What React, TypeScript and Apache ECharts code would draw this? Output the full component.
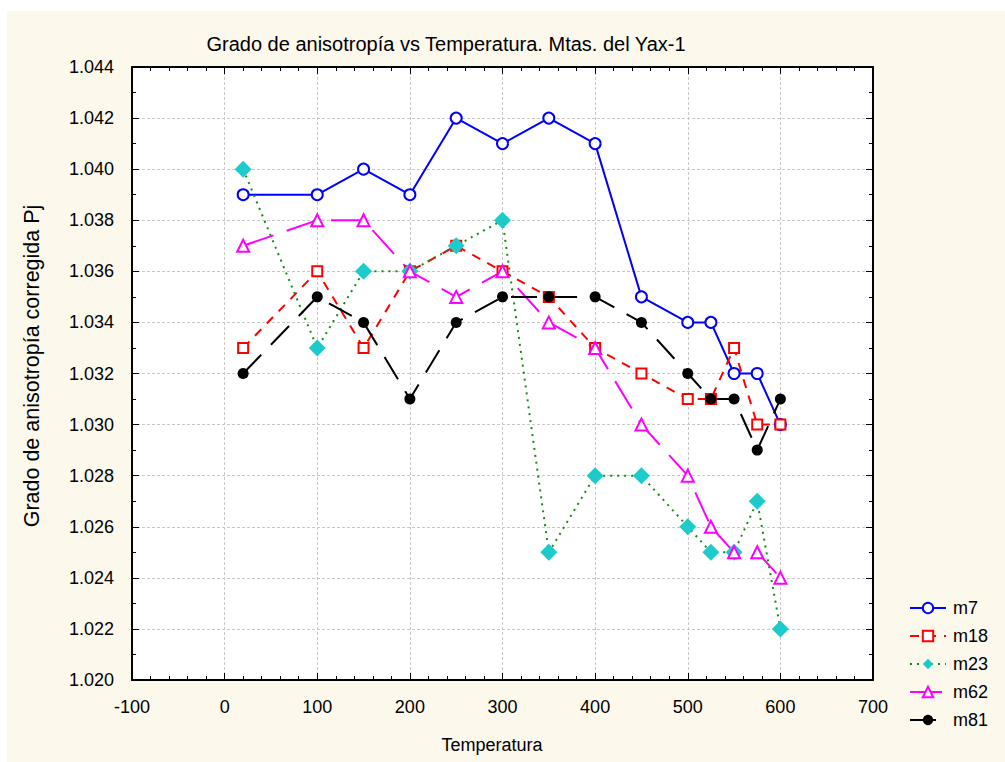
import React, { useEffect, useRef } from "react";
import * as echarts from "echarts";

// Temperature steps (°C) shared by every specimen
const temps = [20, 100, 150, 200, 250, 300, 350, 400, 450, 500, 525, 550, 575, 600];

// Corrected anisotropy degree Pj per specimen
const m7 = [1.039, 1.039, 1.040, 1.039, 1.042, 1.041, 1.042, 1.041, 1.035, 1.034, 1.034, 1.032, 1.032, 1.030];
const m18 = [1.033, 1.036, 1.033, 1.036, 1.037, 1.036, 1.035, 1.033, 1.032, 1.031, 1.031, 1.033, 1.030, 1.030];
const m23 = [1.040, 1.033, 1.036, 1.036, 1.037, 1.038, 1.025, 1.028, 1.028, 1.026, 1.025, 1.025, 1.027, 1.022];
const m62 = [1.037, 1.038, 1.038, 1.036, 1.035, 1.036, 1.034, 1.033, 1.030, 1.028, 1.026, 1.025, 1.025, 1.024];
const m81 = [1.032, 1.035, 1.034, 1.031, 1.034, 1.035, 1.035, 1.035, 1.034, 1.032, 1.031, 1.031, 1.029, 1.031];

const xMin = -100;
const xMax = 700;
const xStep = 100;
const yMin = 1.02;
const yMax = 1.044;
const yStep = 0.002;

const FONT = "Liberation Sans, Arial, sans-serif";

const pairs = (ys: number[]) => temps.map((t, i) => [t, ys[i]]);

export default function App() {
  const ref = useRef<HTMLDivElement>(null);

  useEffect(() => {
    document.body.style.margin = "0";
    const chart = echarts.init(ref.current!, undefined, { renderer: "svg" });

    const frameAxisLine = { show: true, onZero: false, lineStyle: { color: "#000", width: 2 } };
    const innerTick = { show: true, inside: true, length: 7, lineStyle: { color: "#000", width: 1 } };
    const gridLine = { show: true, lineStyle: { color: "#c8c8c8", type: [3, 2], width: 1 } };

    const line = (
      name: string,
      ys: number[],
      color: string,
      lineType: any,
      symbol: string,
      symbolSize: number,
      fill: string
    ) => ({
      name,
      type: "line",
      data: pairs(ys),
      xAxisIndex: 0,
      yAxisIndex: 0,
      symbol,
      symbolSize,
      showAllSymbol: true,
      lineStyle: { color, width: 2, type: lineType },
      itemStyle: {
        color: fill,
        borderColor: color,
        borderWidth: fill === "#fff" ? 2 : 0,
      },
      emphasis: { disabled: true },
    });

    chart.setOption({
      animation: false,
      backgroundColor: "transparent",
      title: {
        text: "Grado de anisotropía vs Temperatura. Mtas. del Yax-1",
        left: 441,
        top: 29,
        textAlign: "center",
        textStyle: { fontFamily: FONT, fontSize: 20, fontWeight: "normal", color: "#000" },
      },
      grid: {
        left: 132,
        top: 67,
        right: 132,
        bottom: 82,
        show: true,
        backgroundColor: "#fff",
        borderWidth: 0,
      },
      legend: {
        orient: "vertical",
        left: 904,
        top: 594,
        itemWidth: 36,
        itemHeight: 13,
        itemGap: 10,
        textStyle: { fontFamily: FONT, fontSize: 18, color: "#000", padding: [0, 0, 0, 2], lineHeight: 18 },
        data: ["m7", "m18", "m23", "m62", "m81"],
      },
      xAxis: [
        {
          type: "value",
          min: xMin,
          max: xMax,
          interval: xStep,
          position: "bottom",
          axisLine: frameAxisLine,
          axisTick: innerTick,
          minorTick: { show: true, splitNumber: 5, length: 4, lineStyle: { color: "#000" } },
          axisLabel: { color: "#000", fontFamily: FONT, fontSize: 18, margin: 18 },
          splitLine: gridLine,
        },
        {
          type: "value",
          min: xMin,
          max: xMax,
          interval: xStep,
          position: "top",
          axisLine: frameAxisLine,
          axisTick: innerTick,
          minorTick: { show: true, splitNumber: 5, length: 4, lineStyle: { color: "#000" } },
          axisLabel: { show: false },
          splitLine: { show: false },
        },
      ],
      yAxis: [
        {
          type: "value",
          min: yMin,
          max: yMax,
          interval: yStep,
          position: "left",
          axisLine: frameAxisLine,
          axisTick: innerTick,
          minorTick: { show: true, splitNumber: 2, length: 4, lineStyle: { color: "#000" } },
          axisLabel: {
            color: "#000",
            fontFamily: FONT,
            fontSize: 18,
            margin: 18,
            formatter: (v: number) => v.toFixed(3),
          },
          splitLine: gridLine,
        },
        {
          type: "value",
          min: yMin,
          max: yMax,
          interval: yStep,
          position: "right",
          axisLine: frameAxisLine,
          axisTick: innerTick,
          minorTick: { show: true, splitNumber: 2, length: 4, lineStyle: { color: "#000" } },
          axisLabel: { show: false },
          splitLine: { show: false },
        },
      ],
      graphic: [
        {
          type: "text",
          x: 492,
          y: 745,
          style: {
            text: "Temperatura",
            fontSize: 18,
            fontFamily: FONT,
            fill: "#000",
            align: "center",
            verticalAlign: "middle",
          },
        },
        {
          type: "text",
          x: 32,
          y: 366,
          rotation: Math.PI / 2,
          style: {
            text: "Grado de anisotropía corregida Pj",
            fontSize: 21.5,
            fontFamily: FONT,
            fill: "#000",
            align: "center",
            verticalAlign: "middle",
          },
        },
      ],
      series: [
        line("m7", m7, "#0000ff", "solid", "circle", 11, "#fff"),
        line("m18", m18, "#ff0000", [9, 8], "rect", 10, "#fff"),
        line("m23", m23, "#138a13", [2, 5], "diamond", 17, "#1ecbcb"),
        line("m62", m62, "#ff00ff", [32, 14], "triangle", 12, "#fff"),
        line("m81", m81, "#000000", [26, 14], "circle", 11, "#000"),
      ],
    });

    return () => chart.dispose();
  }, []);

  return (
    <div style={{ position: "relative", width: 1005, height: 762, background: "#fff", overflow: "hidden" }}>
      <div
        style={{ position: "absolute", left: 7, top: 11, right: 0, bottom: 0, background: "#fdf8ec" }}
      />
      <div ref={ref} style={{ position: "absolute", left: 0, top: 0, width: 1005, height: 762 }} />
    </div>
  );
}
